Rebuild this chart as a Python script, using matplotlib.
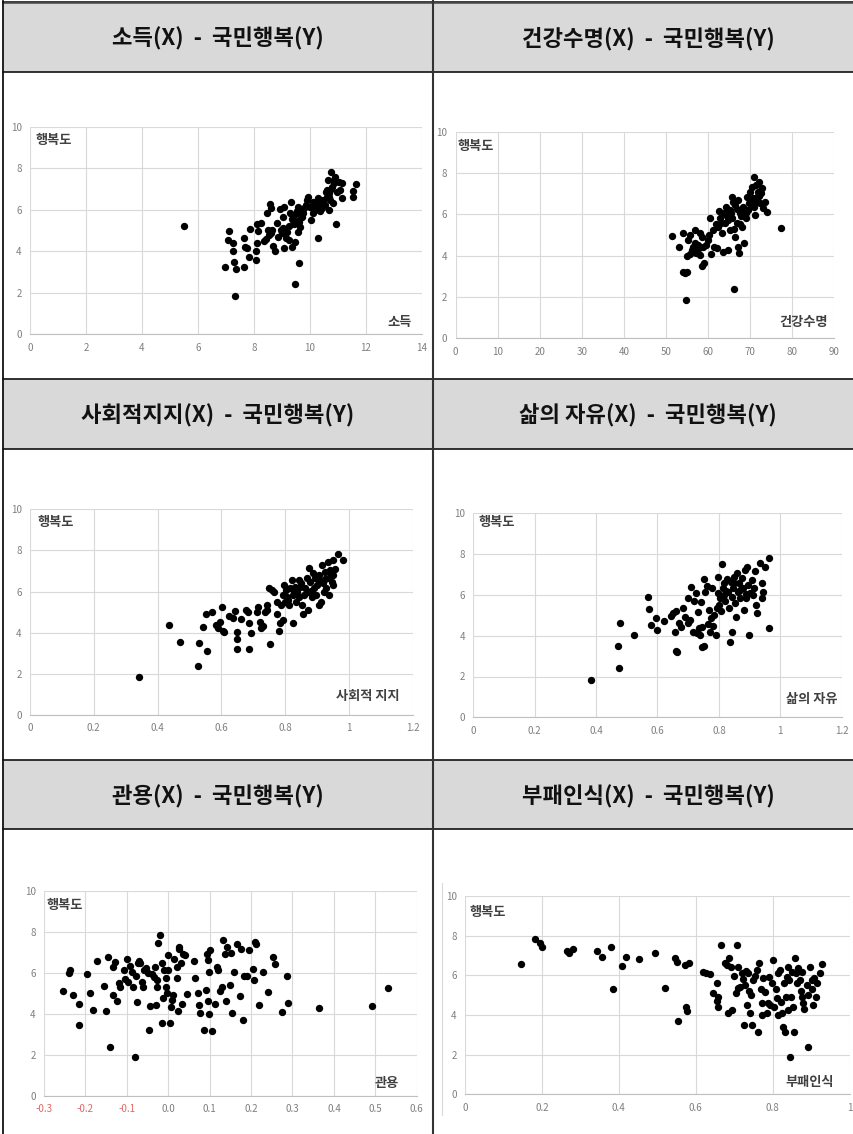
import matplotlib
matplotlib.use('Agg')
import matplotlib.pyplot as plt
import matplotlib.patches as mpatches

plt.rcParams['font.family'] = ['Noto Sans CJK KR', 'DejaVu Sans']

W, H = 854, 1134

# ---- data ----
titles = ['소득(X)  -  국민행복(Y)', '건강수명(X)  -  국민행복(Y)',
          '사회적지지(X)  -  국민행복(Y)', '삶의 자유(X)  -  국민행복(Y)',
          '관용(X)  -  국민행복(Y)', '부패인식(X)  -  국민행복(Y)']
x_names = ['소득', '건강수명', '사회적 지지', '삶의 자유', '관용', '부패인식']
y_name = '행복도'

income_x = [5.52, 7.10, 7.07, 7.27, 7.27, 6.98, 7.28, 7.37, 7.32, 7.64, 7.64, 7.69, 7.75, 7.88,
            7.84, 8.06, 8.06, 8.12, 8.11, 8.16, 8.25, 8.38, 8.44, 8.46, 8.57, 8.61, 8.50, 8.56,
            8.64, 8.70, 8.74, 8.61, 8.82, 8.92, 8.98, 9.03, 9.06, 9.09, 9.09, 9.15, 9.18, 9.24,
            9.30, 9.32, 9.36, 9.39, 9.42, 9.48, 9.48, 9.50, 9.54, 9.57, 9.59, 9.62, 9.63, 9.65,
            9.71, 9.77, 9.80, 9.85, 9.89, 9.95, 10.01, 10.05, 10.10, 10.13, 10.19, 10.25, 10.29,
            10.31, 10.35, 10.37, 10.43, 10.49, 10.55, 10.61, 10.63, 10.64, 10.67, 10.70, 10.73,
            10.76, 10.79, 10.82, 10.85, 10.91, 10.94, 10.97, 11.03, 11.08, 11.14, 11.14, 11.54,
            11.55, 11.66, 9.45, 9.35, 9.55, 10.40, 10.58, 10.68, 9.00, 8.85, 9.70,
            10.20, 10.45, 10.75, 10.88, 9.25, 9.60]
income_y = [5.20, 4.98, 4.54, 4.38, 4.03, 3.23, 3.50, 3.16, 1.86, 3.23, 4.62, 4.22, 4.14, 5.07,
            3.71, 3.56, 4.00, 5.31, 4.38, 4.98, 5.38, 4.51, 4.61, 5.83, 6.28, 6.07, 5.02, 4.78,
            5.02, 4.25, 4.03, 4.86, 5.38, 6.02, 5.02, 5.10, 5.67, 6.15, 4.14, 4.65, 4.94, 4.54,
            5.83, 6.39, 4.19, 5.51, 5.75, 4.46, 2.42, 5.35, 5.83, 6.15, 4.94, 3.43, 5.51, 5.18,
            5.67, 5.83, 6.07, 6.23, 6.47, 6.63, 6.15, 5.51, 6.39, 5.83, 6.23, 6.07, 6.55,
            4.65, 5.95, 6.31, 6.07, 6.47, 6.23, 6.63, 6.95, 7.43, 5.99, 6.79, 6.47,
            7.83, 7.11, 6.31, 7.27, 7.59, 5.31, 6.87, 7.35, 6.95, 7.27, 6.58, 6.92,
            6.60, 7.22, 5.30, 5.55, 5.95, 6.15, 6.85, 6.60, 4.90, 4.70, 6.00,
            6.00, 6.35, 7.00, 7.45, 5.20, 5.40]

health_x = [51.5, 53.1, 54.1, 54.0, 54.5, 55.1, 54.7, 55.1, 55.3, 55.7, 56.1, 56.5, 56.9, 57.1,
            57.5, 57.8, 58.1, 58.5, 58.7, 58.5, 59.1, 59.4, 59.9, 60.2, 60.5, 60.7, 61.2, 61.5,
            61.8, 62.3, 62.6, 62.8, 63.2, 63.5, 63.7, 64.0, 64.3, 64.7, 64.8, 65.1, 65.5, 65.6,
            65.8, 66.1, 66.4, 66.5, 66.8, 67.0, 67.2, 67.4, 67.6, 68.0, 68.4, 68.6, 68.9, 69.2,
            69.4, 69.7, 70.0, 70.2, 70.5, 70.8, 71.0, 71.1, 71.4, 71.6, 71.9, 72.2, 72.3, 72.7,
            73.1, 73.5, 73.9, 77.3, 55.8, 56.8, 64.5, 65.2, 66.2, 67.8, 68.8, 70.4, 71.5, 72.0,
            57.2, 58.0, 62.0, 63.0, 65.9, 66.9, 67.5, 69.0, 70.6, 72.5]
health_y = [4.97, 4.40, 5.08, 3.23, 3.15, 3.23, 1.85, 3.98, 4.76, 5.00, 4.27, 4.44, 5.24, 4.11,
            4.52, 4.35, 5.08, 4.89, 4.40, 3.52, 3.63, 4.52, 4.76, 5.00, 5.81, 4.08, 5.24, 4.44,
            5.53, 5.40, 6.18, 5.81, 5.08, 4.19, 6.05, 5.56, 6.37, 4.27, 5.73, 5.24, 6.05, 6.85,
            5.81, 2.37, 6.45, 4.89, 5.56, 4.44, 6.69, 4.11, 6.05, 5.40, 6.37, 4.60, 5.81, 6.85,
            6.21, 6.53, 7.10, 6.69, 7.34, 6.37, 7.82, 5.97, 7.42, 6.85, 7.10, 7.58, 6.53, 7.26,
            6.29, 6.61, 6.13, 5.32, 4.10, 4.60, 5.90, 6.20, 5.30, 5.90, 6.20, 6.40, 6.60, 6.90,
            4.25, 4.05, 4.35, 5.60, 6.60, 6.25, 5.55, 6.05, 6.80, 7.05]

social_x = [0.342, 0.437, 0.470, 0.526, 0.530, 0.541, 0.552, 0.554, 0.571, 0.583, 0.591, 0.596,
            0.601, 0.604, 0.608, 0.625, 0.638, 0.643, 0.648, 0.650, 0.650, 0.661, 0.677, 0.685,
            0.688, 0.688, 0.692, 0.711, 0.716, 0.721, 0.723, 0.732, 0.737, 0.742, 0.744, 0.750,
            0.753, 0.758, 0.765, 0.774, 0.776, 0.780, 0.784, 0.787, 0.792, 0.794, 0.798, 0.801,
            0.803, 0.807, 0.811, 0.815, 0.821, 0.824, 0.826, 0.831, 0.834, 0.836, 0.842, 0.845,
            0.847, 0.852, 0.855, 0.859, 0.862, 0.868, 0.873, 0.873, 0.876, 0.878, 0.884, 0.887,
            0.889, 0.894, 0.897, 0.901, 0.905, 0.907, 0.912, 0.915, 0.918, 0.922, 0.925, 0.929,
            0.933, 0.936, 0.939, 0.941, 0.946, 0.949, 0.951, 0.951, 0.967, 0.980,
            0.810, 0.828, 0.850, 0.880, 0.905, 0.925, 0.940, 0.955]
social_y = [1.86, 4.38, 3.57, 2.40, 3.48, 4.29, 4.89, 3.11, 5.02, 4.38, 4.25, 4.54,
            5.23, 4.08, 4.05, 4.83, 4.70, 5.06, 4.02, 3.70, 3.21, 4.65, 5.11, 4.99,
            4.46, 3.21, 3.97, 5.02, 5.27, 4.51, 4.21, 4.34, 4.99, 5.11, 5.35, 6.19,
            3.45, 6.08, 6.00, 4.89, 5.51, 4.08, 4.46, 5.35, 4.62, 5.83, 6.32, 5.51,
            6.08, 5.75, 5.35, 6.16, 6.56, 4.46, 5.83, 6.24, 5.51, 6.00, 6.56, 5.75,
            6.24, 5.35, 4.89, 5.83, 6.16, 6.65, 6.00, 5.11, 7.13, 6.48, 5.75, 6.89,
            6.16, 6.65, 5.83, 6.32, 5.35, 6.81, 5.51, 7.29, 6.40, 6.00, 6.97, 6.16,
            7.46, 6.65, 5.83, 7.05, 6.48, 7.54, 6.81, 6.32, 7.81, 7.54,
            5.60, 5.95, 6.40, 6.05, 6.55, 6.60, 6.95, 7.10]

freedom_x = [0.382, 0.470, 0.475, 0.477, 0.523, 0.568, 0.572, 0.579, 0.594, 0.597, 0.622, 0.644,
             0.652, 0.657, 0.659, 0.659, 0.665, 0.670, 0.677, 0.684, 0.690, 0.698, 0.700, 0.706,
             0.710, 0.715, 0.720, 0.724, 0.728, 0.731, 0.735, 0.739, 0.742, 0.745, 0.745, 0.750,
             0.753, 0.755, 0.761, 0.764, 0.768, 0.772, 0.775, 0.777, 0.782, 0.785, 0.790, 0.793,
             0.796, 0.798, 0.801, 0.804, 0.809, 0.812, 0.815, 0.818, 0.820, 0.826, 0.829, 0.833,
             0.837, 0.840, 0.842, 0.844, 0.847, 0.850, 0.853, 0.855, 0.858, 0.861, 0.866, 0.869,
             0.874, 0.880, 0.883, 0.885, 0.887, 0.890, 0.894, 0.898, 0.901, 0.907, 0.912, 0.918,
             0.920, 0.923, 0.934, 0.939, 0.942, 0.945, 0.951, 0.962, 0.964,
             0.808, 0.822, 0.848, 0.868, 0.888, 0.915]
freedom_y = [1.83, 3.51, 2.40, 4.61, 4.04, 5.92, 5.31, 4.53, 4.85, 4.28, 4.74, 4.98,
             5.10, 4.17, 5.21, 3.25, 3.19, 4.61, 4.41, 5.34, 4.93, 4.61, 5.87, 4.77,
             6.37, 4.20, 5.70, 6.08, 4.12, 5.15, 4.36, 4.04, 5.65, 4.44, 3.46, 6.78,
             3.51, 6.16, 6.45, 4.56, 5.26, 4.17, 4.85, 6.32, 4.49, 5.02, 4.04, 5.34,
             6.08, 6.90, 5.51, 5.83, 7.50, 6.32, 6.00, 6.57, 5.70, 6.78, 6.16, 5.34,
             3.68, 6.65, 5.92, 4.20, 6.32, 6.90, 5.59, 4.93, 7.06, 6.16, 6.57, 5.83,
             6.81, 6.32, 5.26, 7.23, 5.83, 7.39, 6.49, 4.04, 6.08, 6.73, 6.00, 7.15,
             5.51, 5.10, 7.55, 6.57, 5.83, 6.16, 7.39, 4.36, 7.79,
             5.20, 6.20, 6.60, 6.25, 6.05, 6.35]

generosity_x = [-0.253, -0.240, -0.237, -0.231, -0.215, -0.215, -0.195, -0.189, -0.182, -0.171,
                -0.154, -0.150, -0.145, -0.141, -0.133, -0.133, -0.129, -0.124, -0.120, -0.116,
                -0.108, -0.104, -0.100, -0.096, -0.092, -0.088, -0.086, -0.080, -0.078, -0.076,
                -0.074, -0.070, -0.067, -0.063, -0.060, -0.058, -0.053, -0.049, -0.046, -0.044,
                -0.040, -0.034, -0.032, -0.029, -0.028, -0.026, -0.024, -0.021, -0.016, -0.014,
                -0.012, -0.010, -0.005, -0.005, -0.004, 0.000, 0.000, 0.004, 0.006, 0.008,
                0.012, 0.014, 0.020, 0.022, 0.023, 0.025, 0.027, 0.031, 0.033, 0.035,
                0.040, 0.046, 0.062, 0.065, 0.073, 0.074, 0.076, 0.087, 0.092, 0.093,
                0.095, 0.097, 0.098, 0.099, 0.101, 0.106, 0.113, 0.117, 0.119, 0.125,
                0.129, 0.133, 0.137, 0.140, 0.141, 0.148, 0.152, 0.154, 0.160, 0.165,
                0.173, 0.175, 0.181, 0.183, 0.191, 0.196, 0.204, 0.207, 0.209, 0.212,
                0.220, 0.230, 0.240, 0.252, 0.258, 0.274, 0.288, 0.289, 0.365, 0.493, 0.530]
generosity_y = [5.13, 5.98, 6.14, 4.92, 4.48, 3.45, 5.94, 5.03, 4.17, 6.60,
                5.36, 4.14, 6.79, 2.39, 4.92, 6.27, 6.55, 4.64, 5.49, 5.33,
                6.14, 5.68, 6.68, 5.57, 6.34, 6.06, 5.29, 1.87, 5.85, 4.59,
                6.47, 6.60, 6.47, 5.57, 5.33, 6.14, 6.22, 5.98, 3.21, 4.38,
                5.94, 5.81, 6.27, 4.43, 5.65, 5.29, 7.48, 7.85, 6.47, 3.53,
                4.76, 6.14, 5.73, 5.29, 5.00, 6.87, 6.14, 3.53, 4.32, 4.67,
                4.92, 6.66, 5.73, 6.27, 4.14, 7.25, 7.15, 6.47, 4.48, 6.92,
                6.87, 4.97, 6.60, 5.73, 5.00, 4.43, 4.02, 3.21, 5.16, 6.92,
                4.64, 6.63, 6.06, 3.99, 7.12, 3.14, 4.48, 6.27, 6.14, 5.13,
                5.29, 7.61, 6.92, 4.64, 7.28, 5.41, 6.98, 4.06, 6.06, 7.41,
                4.87, 7.15, 3.70, 5.85, 5.85, 7.12, 6.17, 5.65, 7.53, 7.41,
                4.41, 6.06, 5.08, 6.79, 6.42, 4.10, 5.85, 4.51, 4.30, 4.38, 5.28]

corruption_x = [0.146, 0.182, 0.195, 0.201, 0.264, 0.270, 0.282, 0.344, 0.357, 0.379, 0.384,
                0.407, 0.419, 0.453, 0.494, 0.520, 0.546, 0.550, 0.553, 0.572, 0.575, 0.578,
                0.583, 0.618, 0.626, 0.637, 0.646, 0.654, 0.655, 0.659, 0.659, 0.666, 0.676,
                0.680, 0.685, 0.687, 0.692, 0.695, 0.700, 0.704, 0.706, 0.709, 0.711, 0.715,
                0.719, 0.724, 0.726, 0.728, 0.731, 0.732, 0.735, 0.738, 0.741, 0.744, 0.747,
                0.750, 0.754, 0.758, 0.763, 0.765, 0.770, 0.771, 0.773, 0.776, 0.780, 0.785,
                0.787, 0.790, 0.793, 0.797, 0.801, 0.804, 0.808, 0.810, 0.813, 0.815, 0.819,
                0.822, 0.825, 0.828, 0.830, 0.832, 0.834, 0.836, 0.839, 0.841, 0.843, 0.845,
                0.848, 0.849, 0.852, 0.855, 0.858, 0.860, 0.862, 0.867, 0.871, 0.874, 0.875,
                0.877, 0.880, 0.882, 0.888, 0.891, 0.893, 0.897, 0.901, 0.903, 0.906, 0.908,
                0.912, 0.914, 0.923, 0.927]
corruption_y = [6.59, 7.83, 7.61, 7.41, 7.24, 7.14, 7.33, 7.24, 6.94, 7.41, 5.29,
                6.47, 6.94, 6.81, 7.14, 5.34, 6.86, 6.67, 3.70, 6.52, 4.42, 4.22,
                6.60, 6.18, 6.10, 6.07, 5.09, 5.60, 4.72, 4.92, 4.39, 7.53, 6.60,
                6.52, 4.08, 6.89, 6.44, 4.25, 5.97, 5.09, 7.53, 5.34, 6.44, 5.39,
                6.13, 5.80, 3.50, 5.50, 6.24, 4.50, 6.10, 5.22, 4.12, 5.01, 3.50,
                5.77, 5.97, 6.27, 3.16, 6.60, 5.29, 4.62, 3.99, 5.85, 5.18, 4.08,
                4.59, 5.90, 4.50, 5.60, 6.77, 4.42, 5.29, 4.84, 6.10, 3.99, 6.27,
                4.67, 4.08, 3.41, 5.60, 3.16, 4.92, 5.94, 6.40, 4.25, 5.77, 1.90,
                4.92, 6.18, 4.42, 3.16, 6.86, 6.13, 5.60, 6.35, 5.77, 5.21, 4.92,
                6.18, 4.59, 4.29, 5.51, 2.37, 5.01, 6.44, 5.77, 5.29, 4.50, 5.85,
                4.92, 5.60, 6.13, 6.57]

x_ticks = [[0, 2, 4, 6, 8, 10, 12, 14],
           [0, 10, 20, 30, 40, 50, 60, 70, 80, 90],
           [0, 0.2, 0.4, 0.6, 0.8, 1.0, 1.2],
           [0, 0.2, 0.4, 0.6, 0.8, 1.0, 1.2],
           [-0.3, -0.2, -0.1, 0.0, 0.1, 0.2, 0.3, 0.4, 0.5, 0.6],
           [0, 0.2, 0.4, 0.6, 0.8, 1.0]]
x_ticklabels = [['0', '2', '4', '6', '8', '10', '12', '14'],
                ['0', '10', '20', '30', '40', '50', '60', '70', '80', '90'],
                ['0', '0.2', '0.4', '0.6', '0.8', '1', '1.2'],
                ['0', '0.2', '0.4', '0.6', '0.8', '1', '1.2'],
                ['-0.3', '-0.2', '-0.1', '0.0', '0.1', '0.2', '0.3', '0.4', '0.5', '0.6'],
                ['0', '0.2', '0.4', '0.6', '0.8', '1']]
y_ticks = [0, 2, 4, 6, 8, 10]

series = [(income_x, income_y), (health_x, health_y), (social_x, social_y),
          (freedom_x, freedom_y), (generosity_x, generosity_y), (corruption_x, corruption_y)]

# plot areas in pixels: left, right, top, bottom
boxes = [(30, 421.7, 126.7, 334.3), (455.7, 834.3, 131.7, 338.3),
         (30, 412.7, 509.3, 715), (473.3, 841.7, 513.3, 717.3),
         (44, 416.7, 891, 1095.7), (465, 849.6, 896, 1094.3)]
# where the two in-chart labels sit (axes fraction)
y_lab_pos = [(0.013, 0.936), (0.006, 0.93), (0.02, 0.94), (0.014, 0.955), (0.007, 0.93), (0.013, 0.92)]
x_lab_pos = [(0.975, 0.06), (0.982, 0.08), (0.967, 0.094), (0.988, 0.09), (0.953, 0.064), (0.959, 0.064)]

fig = plt.figure(figsize=(W / 100, H / 100), dpi=100)

# table background in pixel coordinates
bg = fig.add_axes([0, 0, 1, 1])
bg.set_xlim(0, W)
bg.set_ylim(H, 0)
bg.axis('off')

col_left, col_mid, col_right = 3, 433, 863
header_rows = [(2, 72), (379, 449), (760, 829)]
for top, bot in header_rows:
    bg.add_patch(mpatches.Rectangle((col_left, top), col_right - col_left, bot - top,
                                    facecolor='#d9d9d9', edgecolor='none'))
    bg.plot([col_left, col_right], [top, top], color='#222222', lw=1.3)
    bg.plot([col_left, col_right], [bot, bot], color='#111111', lw=1.2)
bg.plot([col_left, col_right], [2, 2], color='#444444', lw=1.8)
bg.plot([col_left, col_left], [1, H], color='#111111', lw=1.3)
bg.plot([col_mid, col_mid], [1, H], color='#333333', lw=1.5)
# faint chart-area edge in the last cell
bg.plot([442, 442], [883, 1115], color='#d9d9d9', lw=0.8)

centers = [(col_left + col_mid) / 2, (col_mid + col_right) / 2]
for i, t in enumerate(titles):
    top, bot = header_rows[i // 2]
    bg.text(centers[i % 2], (top + bot) / 2 + 2, t, ha='center', va='center',
            fontsize=16, fontweight='bold', color='#111111')

for i, (xs, ys) in enumerate(series):
    l, r, t, b = boxes[i]
    ax = fig.add_axes([l / W, 1 - b / H, (r - l) / W, (b - t) / H])
    ax.set_facecolor('none')
    ax.scatter(xs, ys, s=28, color='black', linewidths=0, zorder=3)
    ax.set_xlim(x_ticks[i][0], x_ticks[i][-1])
    ax.set_ylim(0, 10)
    ax.set_xticks(x_ticks[i])
    ax.set_xticklabels(x_ticklabels[i])
    ax.set_yticks(y_ticks)
    ax.grid(True, color='#d9d9d9', lw=0.8)
    ax.set_axisbelow(True)
    for s in ['top', 'right', 'left']:
        ax.spines[s].set_visible(False)
    ax.spines['bottom'].set_color('#bfbfbf')
    ax.spines['bottom'].set_linewidth(0.8)
    ax.tick_params(length=0, labelsize=7, colors='#7f7f7f', pad=6)
    if i == 4:
        for lab, v in zip(ax.get_xticklabels(), x_ticks[i]):
            if v < 0:
                lab.set_color('#e06666')
    ax.text(y_lab_pos[i][0], y_lab_pos[i][1], y_name, transform=ax.transAxes,
            ha='left', va='center', fontsize=9.5, fontweight='bold', color='#404040')
    ax.text(x_lab_pos[i][0], x_lab_pos[i][1], x_names[i], transform=ax.transAxes,
            ha='right', va='center', fontsize=9.5, fontweight='bold', color='#404040')

fig.savefig('out.png', dpi=100)
